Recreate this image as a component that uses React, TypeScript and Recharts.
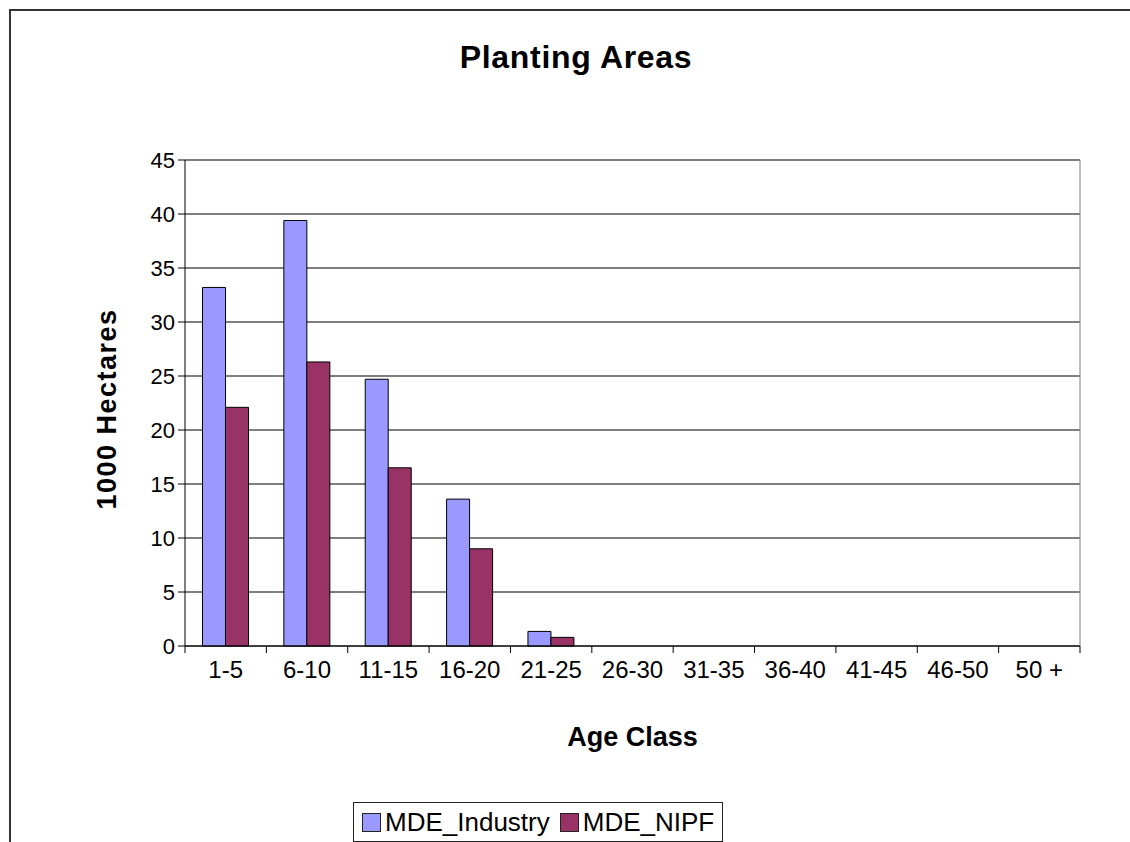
import { Bar, BarChart, CartesianGrid, Label, XAxis, YAxis } from "recharts";

const ageClasses = ["1-5", "6-10", "11-15", "16-20", "21-25", "26-30", "31-35", "36-40", "41-45", "46-50", "50 +"];
const industry = [33.2, 39.4, 24.7, 13.6, 1.35, 0, 0, 0, 0, 0, 0];
const nipf = [22.1, 26.3, 16.5, 9.0, 0.8, 0, 0, 0, 0, 0, 0];
const yTicks = [0, 5, 10, 15, 20, 25, 30, 35, 40, 45];
// tick marks sit between categories, like Excel
const boundaryTicks = ageClasses.map((_, i) => i).concat(ageClasses.length);

const BLUE = "#9999FF";
const PLUM = "#993366";
const FONT = "'Liberation Sans', Arial, sans-serif";

const data = ageClasses.map((age, i) => ({
  age,
  industry: industry[i],
  nipf: nipf[i],
}));

const legendItems = [
  { name: "MDE_Industry", color: BLUE },
  { name: "MDE_NIPF", color: PLUM },
];

function LegendBox() {
  return (
    <div
      style={{
        position: "absolute",
        left: 353,
        top: 802,
        display: "flex",
        alignItems: "center",
        border: "1px solid #222",
        height: 38,
        padding: "0 8px 0 8px",
        background: "#fff",
        fontFamily: FONT,
        fontSize: 26,
        color: "#000",
      }}
    >
      {legendItems.map((item, i) => (
        <div key={item.name} style={{ display: "flex", alignItems: "center", marginLeft: i ? 10 : 0 }}>
          <span
            style={{
              display: "inline-block",
              width: 17,
              height: 17,
              background: item.color,
              border: "1px solid #222",
              marginRight: 4,
            }}
          />
          <span>{item.name}</span>
        </div>
      ))}
    </div>
  );
}

export default function App() {
  return (
    <div style={{ position: "fixed", inset: 0, overflow: "hidden", background: "#fff" }}>
      <div
        style={{
          position: "absolute",
          left: 9,
          top: 9,
          width: 1200,
          height: 900,
          border: "2px solid #333",
        }}
      />
      <div
        style={{
          position: "absolute",
          left: 0,
          width: 1152,
          top: 39,
          textAlign: "center",
          fontFamily: FONT,
          fontWeight: "bold",
          fontSize: 32,
          letterSpacing: 0.7,
          color: "#000",
        }}
      >
        Planting Areas
      </div>
      <div style={{ position: "absolute", left: 0, top: 0 }}>
        <BarChart
          width={1130}
          height={842}
          data={data}
          margin={{ top: 160, right: 49, bottom: 0, left: 0 }}
          barCategoryGap="21.5%"
          barGap={0}
        >
          <CartesianGrid vertical={false} stroke="#000" />
          <XAxis
            type="number"
            dataKey={() => 0}
            domain={[0, ageClasses.length]}
            ticks={boundaryTicks}
            interval={0}
            height={1}
            tick={() => <g />}
            tickSize={7}
            stroke="#000"
            allowDataOverflow
          />
          <XAxis
            xAxisId="cat"
            dataKey="age"
            height={195}
            interval={0}
            axisLine={false}
            tickLine={false}
            tickSize={6}
            tickMargin={8}
            tick={{ fontSize: 24, fill: "#000", fontFamily: FONT }}
          >
            <Label
              value="Age Class"
              position="insideTop"
              offset={80}
              style={{ fontSize: 27, fontWeight: "bold", fill: "#000", fontFamily: FONT }}
            />
          </XAxis>
          <YAxis
            width={185}
            domain={[0, 45]}
            ticks={yTicks}
            interval={0}
            tickSize={7}
            tickMargin={3}
            stroke="#000"
            tick={{ fontSize: 22, fill: "#000", fontFamily: FONT }}
          >
            <Label
              content={(props: any) => {
                const vb = props.viewBox || {};
                const cx = vb.x + vb.width - 78;
                const cy = vb.y + vb.height / 2 + 6;
                return (
                  <text
                    x={cx}
                    y={cy}
                    transform={`rotate(-90, ${cx}, ${cy})`}
                    textAnchor="middle"
                    dominantBaseline="central"
                    style={{ fontSize: 27, fontWeight: "bold", fill: "#000", fontFamily: FONT, letterSpacing: 1.5 }}
                  >
                    1000 Hectares
                  </text>
                );
              }}
            />
          </YAxis>
          <YAxis
            yAxisId="frame"
            orientation="right"
            width={1}
            domain={[0, 45]}
            tick={false}
            tickLine={false}
            axisLine={{ stroke: "#808080" }}
          />
          <Bar xAxisId="cat" dataKey="industry" name="MDE_Industry" fill={BLUE} stroke="#000" strokeWidth={1} isAnimationActive={false} />
          <Bar xAxisId="cat" dataKey="nipf" name="MDE_NIPF" fill={PLUM} stroke="#000" strokeWidth={1} isAnimationActive={false} />
        </BarChart>
      </div>
      <LegendBox />
    </div>
  );
}
